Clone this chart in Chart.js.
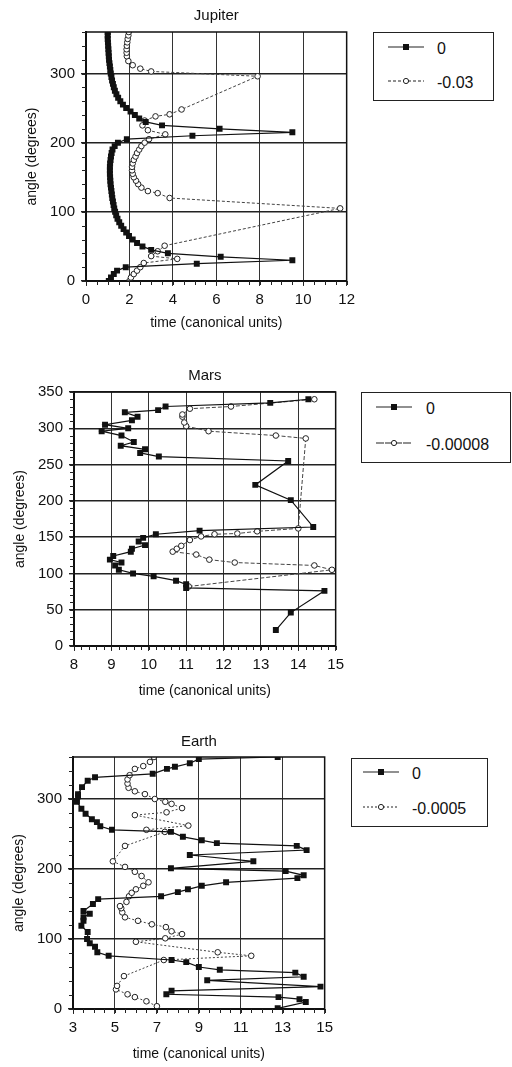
<!DOCTYPE html>
<html>
<head>
<meta charset="utf-8">
<script src="https://cdn.jsdelivr.net/npm/chart.js@4.4.0/dist/chart.umd.min.js"></script>
<style>
  body { margin: 0; background: #fff; width: 512px; height: 1067px; position: relative; overflow: hidden; font-family: 'Liberation Sans', Arial, sans-serif; }
  canvas { position: absolute; left: 0; }
  .legend { position: absolute; border: 1.5px solid #222; background: #fff; box-sizing: border-box; }
  .legend .row { position: absolute; left: 0; right: 0; height: 20px; }
  .legend svg { position: absolute; top: 4px; }
  .legend span { position: absolute; top: 0; font-size: 16px; line-height: 20px; color: #111; }
</style>
</head>
<body>
<canvas id="jupiter" width="360" height="336" style="top:0px"></canvas>
<canvas id="mars" width="349" height="364" style="top:340px"></canvas>
<canvas id="earth" width="338" height="367" style="top:700px"></canvas>

<div class="legend" id="legJupiter" style="left:373px;top:32px;width:121px;height:69px"></div>
<div class="legend" id="legMars" style="left:361px;top:392px;width:150px;height:71px"></div>
<div class="legend" id="legEarth" style="left:351px;top:758px;width:137px;height:69px"></div>

<script>
// Jupiter: angle (degrees) vs time (canonical units)
const jupiterLabels = ['0', '-0.03'];
const jupiterAngle0 = [0, 5, 10, 15, 20, 25, 30, 35, 40, 45, 50, 55, 60, 65, 70, 75, 80, 85, 90, 95,
    100, 105, 110, 115, 120, 125, 130, 135, 140, 145, 150, 155, 160, 165, 170, 175, 180, 185, 190, 195,
    200, 205, 210, 215, 220, 225, 230, 235, 240, 245, 250, 255, 260, 265, 270, 275, 280, 285, 290, 295,
    300, 305, 310, 315, 320, 325, 330, 335, 340, 345, 350, 355, 360];
const jupiterTime0 = [1.05, 1.15, 1.28, 1.43, 1.83, 5.1, 9.5, 6.2, 3.77, 3.0, 2.6, 2.35, 2.15, 1.98, 1.85, 1.73, 1.62, 1.53, 1.45, 1.39,
    1.34, 1.3, 1.27, 1.24, 1.21, 1.19, 1.17, 1.15, 1.13, 1.12, 1.11, 1.1, 1.1, 1.1, 1.11, 1.13, 1.15, 1.18, 1.22, 1.32,
    1.47, 1.88, 4.9, 9.5, 6.15, 3.5, 2.75, 2.45, 2.25, 2.05, 1.85, 1.7, 1.58, 1.48, 1.4, 1.33, 1.28, 1.24, 1.2, 1.17,
    1.14, 1.12, 1.1, 1.08, 1.06, 1.05, 1.04, 1.03, 1.02, 1.01, 1.0, 1.0, 1.0];
const jupiterAngle1 = [0, 5, 10, 15, 20, 26, 32, 36, 43, 51, 105, 120, 127, 130, 135, 140, 145, 150, 155, 160,
    165, 170, 175, 180, 185, 190, 195, 200, 205, 212, 218, 225, 232, 238, 241, 248, 296, 303, 307, 312,
    318, 325, 330, 335, 340, 345, 350, 355, 360];
const jupiterTime1 = [2.0, 2.07, 2.2, 2.35, 2.5, 2.66, 4.2, 3.0, 3.3, 3.62, 11.7, 3.85, 3.3, 2.85, 2.55, 2.4, 2.3, 2.2, 2.15, 2.12,
    2.12, 2.15, 2.2, 2.28, 2.35, 2.45, 2.55, 2.7, 2.9, 3.65, 2.85, 2.6, 2.7, 3.2, 3.85, 4.4, 7.9, 3.0, 2.5, 2.15,
    1.95, 1.88, 1.87, 1.87, 1.88, 1.9, 1.92, 1.95, 1.97];

// Mars
const marsLabels = ['0', '-0.00008'];
const marsAngle0 = [22, 46, 76, 80, 85, 90, 96, 100, 105, 111, 115, 119, 124, 130, 134, 139, 144, 149, 154, 159,
    164, 201, 222, 255, 261, 266, 271, 276, 281, 290, 296, 300, 305, 311, 316, 322, 325, 330, 335, 340];
const marsTime0 = [13.4, 13.8, 14.7, 11.0, 11.0, 10.73, 10.13, 9.58, 9.2, 9.1, 9.27, 8.96, 9.05, 9.52, 9.55, 9.9, 9.73, 9.85, 10.19, 11.36,
    14.4, 13.8, 12.85, 13.73, 10.27, 9.77, 9.9, 9.25, 9.6, 9.27, 8.74, 9.45, 8.83, 9.55, 9.7, 9.36, 10.25, 10.45, 13.25, 14.27];
const marsAngle1 = [82, 105, 111, 115, 119, 126, 130, 134, 138, 146, 151, 154, 155, 158, 162,
    286, 290, 296, 303, 308, 316, 319, 327, 330, 340];
const marsTime1 = [11.07, 14.9, 14.43, 12.3, 11.62, 11.27, 10.64, 10.75, 10.87, 11.1, 11.4, 11.76, 12.37, 12.9, 14.0,
    14.2, 13.4, 11.6, 11.0, 10.95, 10.9, 10.9, 11.1, 12.2, 14.43];

// Earth
const earthLabels = ['0', '-0.0005'];
const earthAngle0 = [1, 10, 14, 17, 21, 26, 32, 41, 46, 52, 56, 60, 67, 70, 76, 81, 89, 94, 100, 110,
    119, 126, 131, 136, 140, 150, 157, 161, 167, 171, 176, 181, 187, 191, 197, 201, 211, 220, 227, 233,
    237, 241, 246, 253, 256, 261, 267, 271, 279, 286, 296, 304, 307, 317, 326, 331, 336, 343, 346, 351, 357, 360];
const earthTime0 = [12.76, 14.1, 13.8, 12.8, 7.45, 7.7, 14.8, 9.4, 14.0, 13.6, 10.0, 9.0, 8.4, 7.7, 4.7, 4.16, 4.05, 3.8, 3.67, 3.7,
    3.4, 3.5, 3.5, 3.8, 3.5, 3.95, 4.2, 7.2, 8.0, 8.48, 9.14, 10.3, 13.7, 14.0, 13.14, 7.67, 11.6, 8.57, 14.14, 13.67,
    9.86, 9.14, 8.24, 7.67, 4.86, 4.3, 4.14, 3.9, 3.6, 3.4, 3.19, 3.24, 3.24, 3.43, 3.7, 4.05, 6.8, 7.48, 7.86, 8.57, 9.0, 12.76];
const earthAngle1 = [4, 11, 17, 21, 28, 33, 47, 70, 76, 81, 96, 101, 107, 111, 117, 121, 126, 131, 138, 144,
    147, 153, 161, 166, 171, 176, 181, 190, 196, 203, 211, 233, 253, 256, 262, 277, 281, 287, 293, 296,
    300, 307, 311, 316, 322, 328, 334, 343, 347, 353, 360];
const earthTime1 = [7.0, 6.5, 5.95, 5.6, 5.05, 5.1, 5.43, 7.33, 11.5, 9.9, 6.0, 7.4, 8.2, 7.7, 7.43, 6.76, 6.1, 5.48, 5.35, 5.3,
    5.24, 5.55, 5.67, 5.8, 6.0, 6.35, 6.6, 6.27, 5.95, 5.48, 4.9, 5.48, 7.38, 6.5, 8.5, 5.95, 7.46, 8.2, 7.7, 7.4,
    6.9, 6.43, 5.95, 5.65, 5.6, 5.6, 5.7, 5.95, 6.35, 6.67, 6.86];

Chart.defaults.font.family = "'Liberation Sans', Arial, sans-serif";
Chart.defaults.color = '#111';

function toPoints(times, angles) {
    return times.map((t, i) => ({ x: t, y: angles[i] }));
}

// Cadre autour de la zone du graphique
const frame = {
    id: 'frame',
    afterDraw(chart) {
        const { ctx, chartArea: a } = chart;
        ctx.save();
        ctx.strokeStyle = '#111';
        ctx.lineWidth = 1.5;
        ctx.strokeRect(a.left, a.top, a.right - a.left, a.bottom - a.top);
        ctx.restore();
    }
};

// Petites graduations sur les axes
const minorTicks = {
    id: 'minorTicks',
    afterDraw(chart, args, opts) {
        const { ctx, chartArea: a, scales } = chart;
        const x = scales.x, y = scales.y;
        ctx.save();
        ctx.strokeStyle = '#222';
        ctx.lineWidth = 1;
        ctx.beginPath();
        for (let v = x.min; v <= x.max + 1e-9; v += opts.x) {
            const px = Math.round(x.getPixelForValue(v)) + 0.5;
            ctx.moveTo(px, a.bottom);
            ctx.lineTo(px, a.bottom + 4);
        }
        for (let v = y.min; v <= y.max + 1e-9; v += opts.y) {
            const py = Math.round(y.getPixelForValue(v)) + 0.5;
            ctx.moveTo(a.left - 4, py);
            ctx.lineTo(a.left, py);
        }
        ctx.stroke();
        ctx.restore();
    }
};

function makePanel(id, cfg) {
    return new Chart(document.getElementById(id), {
        type: 'scatter',
        data: {
            datasets: [{
                label: cfg.labels[0],
                data: toPoints(cfg.time0, cfg.angle0),
                showLine: true,
                borderColor: '#111',
                borderWidth: 1.2,
                backgroundColor: '#111',
                pointStyle: 'rect',
                pointRadius: 4.2,
                pointBorderWidth: 0
            }, {
                label: cfg.labels[1],
                data: toPoints(cfg.time1, cfg.angle1),
                showLine: true,
                borderColor: '#444',
                borderWidth: 1,
                borderDash: cfg.dash,
                pointStyle: 'circle',
                pointRadius: 2.8,
                pointBackgroundColor: '#fff',
                pointBorderColor: '#222',
                pointBorderWidth: 1
            }]
        },
        options: {
            responsive: false,
            animation: false,
            layout: { padding: { left: cfg.padLeft, right: 12, top: 0, bottom: 0 } },
            plugins: {
                legend: { display: false },
                tooltip: { enabled: false },
                title: {
                    display: true,
                    text: cfg.title,
                    fullSize: false,
                    font: { size: 15, weight: 'normal' },
                    color: '#111',
                    padding: { top: cfg.titleTop, bottom: cfg.titleBottom }
                },
                minorTicks: { x: cfg.minorX, y: cfg.minorY }
            },
            scales: {
                x: {
                    type: 'linear',
                    min: cfg.xMin,
                    max: cfg.xMax,
                    ticks: { stepSize: cfg.xStep, includeBounds: false, font: { size: 15 }, color: '#111', padding: 5, maxRotation: 0 },
                    grid: { color: '#333', lineWidth: 1, tickLength: 5 },
                    border: { color: '#111', width: 2 },
                    title: { display: true, text: 'time (canonical units)', font: { size: 14 }, color: '#111', padding: 4 },
                    afterFit: s => { s.height = cfg.xHeight; }
                },
                y: {
                    min: 0,
                    max: cfg.yMax,
                    ticks: { stepSize: cfg.yStep, includeBounds: false, font: { size: 15 }, color: '#111', padding: 6 },
                    grid: { color: '#222', lineWidth: 1.4, tickLength: 5 },
                    border: { color: '#111', width: 2 },
                    title: { display: true, text: 'angle (degrees)', font: { size: 14 }, color: '#111', padding: 4 },
                    afterFit: s => { s.width = 66; }
                }
            }
        },
        plugins: [frame, minorTicks]
    });
}

makePanel('jupiter', {
    title: 'Jupiter', labels: jupiterLabels,
    angle0: jupiterAngle0, time0: jupiterTime0, angle1: jupiterAngle1, time1: jupiterTime1,
    dash: [3, 2], padLeft: 20, titleTop: 7, titleBottom: 7, xHeight: 55,
    xMin: 0, xMax: 12, xStep: 2, yMax: 360, yStep: 100, minorX: 0.5, minorY: 20
});
makePanel('mars', {
    title: 'Mars', labels: marsLabels,
    angle0: marsAngle0, time0: marsTime0, angle1: marsAngle1, time1: marsTime1,
    dash: [4, 2], padLeft: 8, titleTop: 27, titleBottom: 7, xHeight: 58,
    xMin: 8, xMax: 15, xStep: 1, yMax: 350, yStep: 50, minorX: 0.2, minorY: 10
});
makePanel('earth', {
    title: 'Earth', labels: earthLabels,
    angle0: earthAngle0, time0: earthTime0, angle1: earthAngle1, time1: earthTime1,
    dash: [2, 2], padLeft: 7, titleTop: 33, titleBottom: 6, xHeight: 58,
    xMin: 3, xMax: 15, xStep: 2, yMax: 360, yStep: 100, minorX: 0.5, minorY: 20
});

// Légende HTML à droite de chaque graphique
function buildLegend(id, labels, rows, lineX, textX, dash) {
    const box = document.getElementById(id);
    labels.forEach((lab, i) => {
        const row = document.createElement('div');
        row.className = 'row';
        row.style.top = (rows[i] - 10) + 'px';
        const marker = i === 0
            ? '<rect x="15" y="1" width="6" height="6" fill="#111"/>'
            : '<circle cx="18" cy="4" r="2.6" fill="#fff" stroke="#222" stroke-width="1"/>';
        const stroke = i === 0 ? '' : ` stroke-dasharray="${dash}"`;
        row.innerHTML = `<svg width="36" height="8" style="left:${lineX}px">` +
            `<line x1="0" y1="4" x2="36" y2="4" stroke="#222" stroke-width="1.2"${stroke}/>${marker}</svg>` +
            `<span style="left:${textX}px">${lab}</span>`;
        box.appendChild(row);
    });
}

buildLegend('legJupiter', jupiterLabels, [16, 50], 14, 63, '3,2');
buildLegend('legMars', marsLabels, [16, 52], 14, 64, '8,1');
buildLegend('legEarth', earthLabels, [15, 50], 11, 60, '2,2');
</script>
</body>
</html>
